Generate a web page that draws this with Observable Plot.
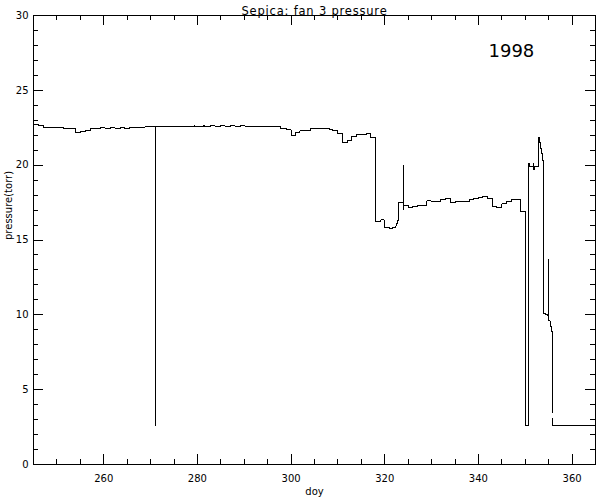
<!DOCTYPE html>
<html><head><meta charset="utf-8">
<script src="https://cdn.jsdelivr.net/npm/d3@7"></script>
<script src="https://cdn.jsdelivr.net/npm/@observablehq/plot@0.6"></script>
<style>body{margin:0;background:#fff} svg{display:block} .ttl text{letter-spacing:0.8px}</style>
</head><body><div id="chart"></div>
<script>
const title = "Sepica: fan 3 pressure";
const yearLabel = "1998";
const xLabel = "doy";
const yLabel = "pressure(torr)";

// day of year (step starts) and pressure (torr)
const days = [
  245.0, 246.1, 247.2, 248.2, 251.4, 253.9, 255.0, 256.1, 257.1, 259.2,
  260.3, 261.4, 262.4, 263.5, 264.5, 265.6, 268.8, 271.0, 271.1,
  279.2, 279.4, 281.3, 281.6, 282.7, 283.8, 284.9, 285.9, 287.0, 288.1,
  289.1, 290.2, 290.9, 297.7, 298.95, 300.0, 301.0, 301.9, 304.07, 308.3,
  308.9, 309.9, 311.0, 312.0, 313.0, 314.0, 316.2, 317.0, 318.0, 319.15,
  319.85, 321.1, 321.7, 322.4, 322.6, 322.8, 323.0, 324.0, 324.05, 324.1,
  325.0, 326.0, 327.0, 329.0, 329.9, 331.9, 333.0, 334.1, 335.0, 335.9,
  337.1, 338.0, 339.0, 340.0, 340.9, 342.0, 343.0, 343.9, 345.0, 346.0,
  347.1, 347.9, 349.0, 350.0, 350.8, 350.85, 351.8, 351.85, 351.9, 352.9,
  353.05, 353.3, 353.5, 353.7, 353.9, 354.3, 354.6, 354.8, 354.95, 355.0,
  355.3, 355.6, 355.8, 355.81, 355.81, 355.83, 365.0
];
const pressure = [
  22.69, 22.62, 22.53, 22.51, 22.47, 22.18, 22.24, 22.33, 22.44, 22.49,
  22.47, 22.51, 22.47, 22.51, 22.47, 22.53, 22.56, 2.6, 22.58,
  22.62, 22.56, 22.62, 22.56, 22.62, 22.58, 22.62, 22.56, 22.62, 22.58,
  22.62, 22.58, 22.56, 22.47, 22.36, 22.0, 22.18, 22.29, 22.42, 22.36,
  22.29, 22.09, 21.49, 21.67, 21.91, 22.04, 22.11, 21.84, 16.23, 16.34,
  15.85, 15.76, 15.85, 15.95, 16.1, 16.3, 17.5, 20.0, 17.0, 17.28,
  17.15, 17.26, 17.32, 17.61, 17.55, 17.70, 17.77, 17.50, 17.55, 17.57,
  17.55, 17.70, 17.79, 17.86, 17.93, 17.75, 17.23, 17.15, 17.41, 17.59,
  17.68, 17.72, 16.9, 2.6, 20.15, 19.9, 20.13, 19.7, 19.9, 21.86,
  21.53, 21.09, 20.75, 20.3, 10.1, 10.05, 10.0, 9.95, 13.7, 9.6,
  9.2, 8.9, 3.5, null, 3.05, 2.6, 2.6
];

const xTickLabels = [260, 280, 300, 320, 340, 360];
const xMinorTicks = [245, 250, 255, 265, 270, 275, 285, 290, 295, 305, 310, 315, 325, 330, 335, 345, 350, 355, 365];
const yTickLabels = [0, 5, 10, 15, 20, 25, 30];
const yMinorTicks = [1,2,3,4,6,7,8,9,11,12,13,14,16,17,18,19,21,22,23,24,26,27,28,29];

const data = days.map((d, i) => ({day: d, p: pressure[i]}));

const W = 596, H = 499, mL = 33, mR = 1, mT = 15, mB = 35;
const fw = W - mL - mR, fh = H - mT - mB;
const MAJ = 10, MIN = 5;
const crisp = {stroke: "black", strokeWidth: 1, shapeRendering: "crispEdges"};

const chart = Plot.plot({
  width: W, height: H,
  marginLeft: mL, marginRight: mR, marginTop: mT, marginBottom: mB,
  x: {domain: [245, 365]},
  y: {domain: [0, 30]},
  style: {fontFamily: "DejaVu Sans", fontSize: "10px", background: "white", color: "black"},
  marks: [
    Plot.tickX(xTickLabels, {x: d => d, insetTop: fh - MAJ, ...crisp}),
    Plot.tickX(xMinorTicks, {x: d => d, insetTop: fh - MIN, ...crisp}),
    Plot.tickX(xTickLabels, {x: d => d, insetBottom: fh - MAJ, ...crisp}),
    Plot.tickX(xMinorTicks, {x: d => d, insetBottom: fh - MIN, ...crisp}),
    Plot.tickY(yTickLabels, {y: d => d, insetRight: fw - MAJ, ...crisp}),
    Plot.tickY(yMinorTicks, {y: d => d, insetRight: fw - MIN, ...crisp}),
    Plot.tickY(yTickLabels, {y: d => d, insetLeft: fw - MAJ, ...crisp}),
    Plot.tickY(yMinorTicks, {y: d => d, insetLeft: fw - MIN, ...crisp}),
    Plot.axisX({ticks: xTickLabels, tickSize: 0, tickPadding: 10, label: null}),
    Plot.axisY({ticks: yTickLabels, tickSize: 0, tickPadding: 5, label: null}),
    Plot.line(data, {x: "day", y: "p", curve: "step-after", ...crisp}),
    Plot.frame(crisp),
    Plot.text([title], {text: d => d, frameAnchor: "top", dy: -9, fontSize: 11.5, className: "ttl"}),
    Plot.text([yearLabel], {text: d => d, frameAnchor: "top-left", dx: 455, dy: 29, textAnchor: "start", fontSize: 18}),
    Plot.text([xLabel], {text: d => d, frameAnchor: "bottom", dy: 30, fontSize: 10}),
    Plot.text([yLabel], {text: d => d, frameAnchor: "left", dx: -25, rotate: -90, fontSize: 10})
  ]
});
document.getElementById("chart").appendChild(chart);
</script>
</body></html>
